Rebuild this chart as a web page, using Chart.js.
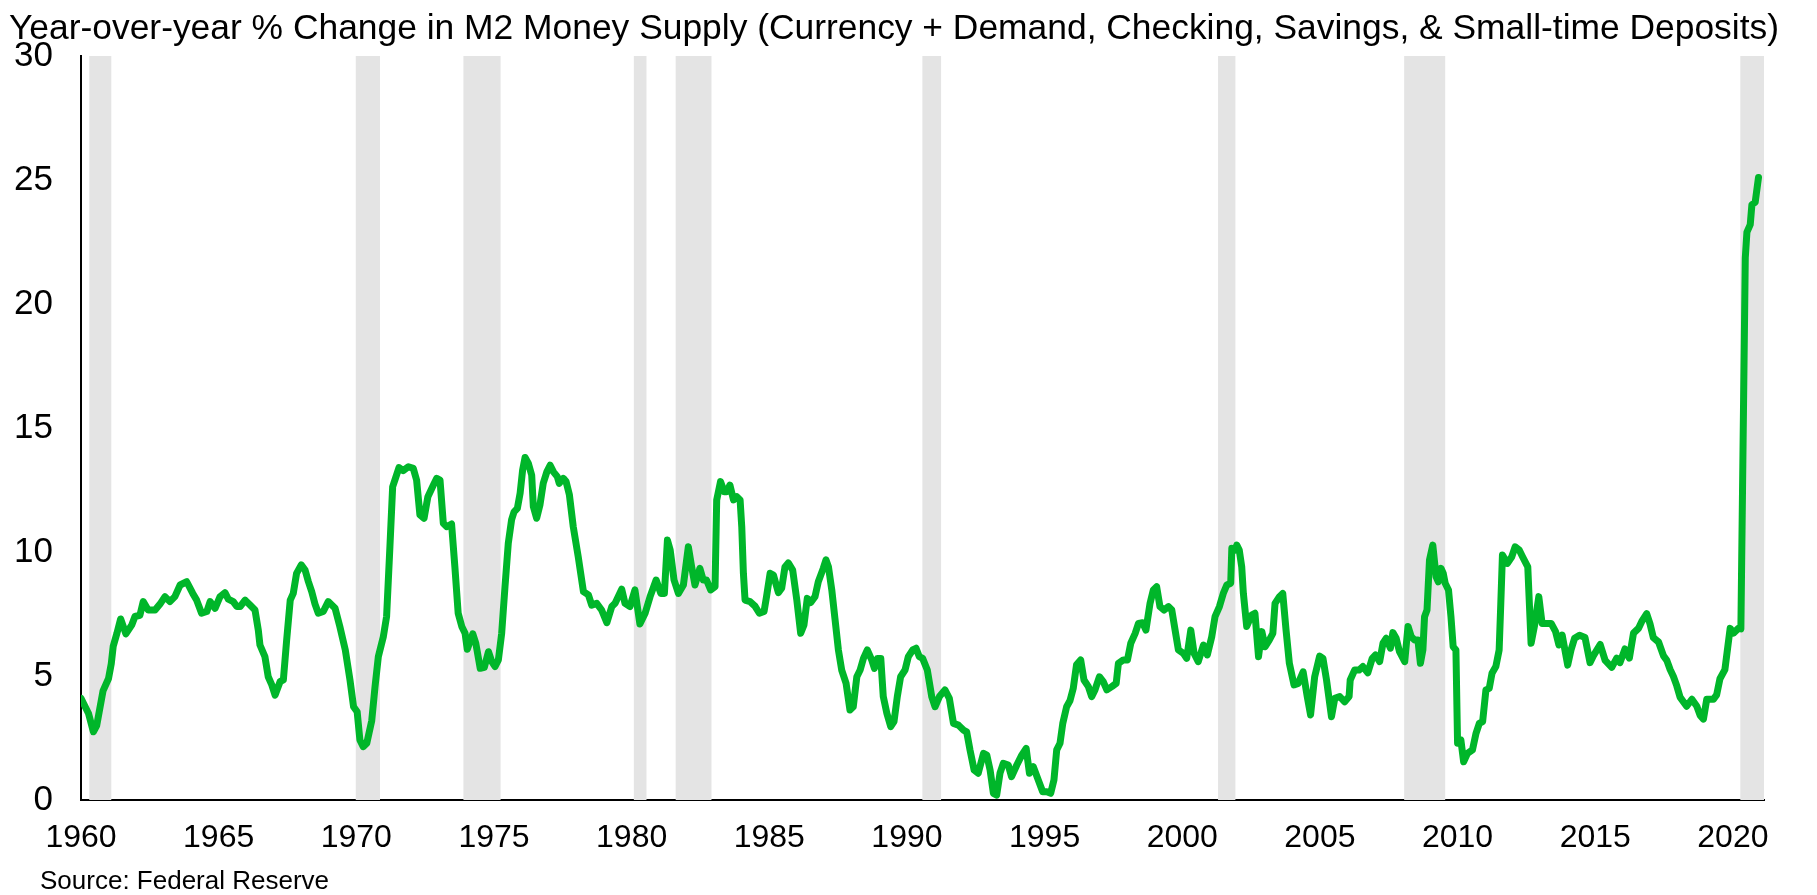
<!DOCTYPE html>
<html>
<head>
<meta charset="utf-8">
<title>M2 Money Supply YoY</title>
<script src="https://cdn.jsdelivr.net/npm/chart.js@4.4.1/dist/chart.umd.min.js"></script>
<style>
    html, body { margin: 0; padding: 0; background: #fff; }
    #wrap { width: 1817px; height: 895px; position: relative; }
</style>
</head>
<body>
<div id="wrap"><canvas id="m2Chart"></canvas></div>
<script>
// values, grouped by decade (x = decimal year, y = % yoy)
const years1960s = [1960.00, 1960.27, 1960.45, 1960.57, 1960.80, 1961.00, 1961.10, 1961.17, 1961.30, 1961.44, 1961.63, 1961.84, 1961.96, 1962.14, 1962.26, 1962.44, 1962.69, 1962.87, 1963.05, 1963.23, 1963.41, 1963.60, 1963.84, 1964.06, 1964.20, 1964.38, 1964.57, 1964.69, 1964.87, 1965.05, 1965.23, 1965.35, 1965.53, 1965.66, 1965.78, 1965.96, 1966.14, 1966.32, 1966.44, 1966.50, 1966.68, 1966.80, 1966.93, 1967.05, 1967.23, 1967.35, 1967.47, 1967.60, 1967.71, 1967.83, 1968.00, 1968.14, 1968.26, 1968.38, 1968.50, 1968.62, 1968.80, 1968.98, 1969.23, 1969.40, 1969.60, 1969.77, 1969.90];
const growth1960s = [4.1, 3.5, 2.75, 3.0, 4.4, 4.9, 5.5, 6.2, 6.7, 7.3, 6.7, 7.05, 7.4, 7.45, 8.0, 7.66, 7.66, 7.9, 8.2, 8.0, 8.2, 8.67, 8.8, 8.33, 8.06, 7.53, 7.6, 8.0, 7.73, 8.2, 8.36, 8.1, 8.0, 7.8, 7.8, 8.06, 7.86, 7.66, 6.85, 6.25, 5.78, 4.97, 4.64, 4.23, 4.77, 4.84, 6.45, 8.06, 8.33, 9.14, 9.48, 9.27, 8.8, 8.4, 7.9, 7.53, 7.6, 8.0, 7.73, 7.0, 6.05, 4.84, 3.76];

const years1970s = [1970.03, 1970.13, 1970.25, 1970.38, 1970.56, 1970.68, 1970.80, 1970.98, 1971.10, 1971.22, 1971.32, 1971.40, 1971.55, 1971.70, 1971.89, 1972.07, 1972.19, 1972.31, 1972.46, 1972.60, 1972.80, 1972.92, 1973.04, 1973.16, 1973.28, 1973.46, 1973.58, 1973.70, 1973.83, 1973.95, 1974.03, 1974.23, 1974.34, 1974.50, 1974.65, 1974.80, 1974.92, 1975.04, 1975.16, 1975.28, 1975.40, 1975.52, 1975.64, 1975.73, 1975.85, 1975.95, 1976.04, 1976.13, 1976.25, 1976.37, 1976.43, 1976.55, 1976.67, 1976.79, 1976.92, 1977.04, 1977.16, 1977.30, 1977.37, 1977.52, 1977.62, 1977.74, 1977.88, 1978.06, 1978.25, 1978.43, 1978.55, 1978.73, 1978.91, 1979.10, 1979.28, 1979.40, 1979.64, 1979.76, 1979.94];
const growth1970s = [3.56, 2.42, 2.15, 2.29, 3.2, 4.57, 5.78, 6.58, 7.4, 10.2, 12.63, 12.9, 13.4, 13.28, 13.44, 13.37, 12.9, 11.5, 11.36, 12.23, 12.7, 12.97, 12.9, 11.16, 11.02, 11.13, 9.4, 7.53, 7.0, 6.72, 6.08, 6.7, 6.32, 5.31, 5.35, 5.98, 5.58, 5.38, 5.65, 6.72, 8.6, 10.35, 11.3, 11.62, 11.76, 12.37, 13.3, 13.81, 13.57, 13.1, 11.83, 11.36, 11.9, 12.77, 13.23, 13.5, 13.23, 13.04, 12.77, 12.97, 12.84, 12.3, 11.02, 9.81, 8.4, 8.27, 7.86, 7.93, 7.66, 7.15, 7.8, 7.93, 8.5, 7.93, 7.8];

const years1980s = [1980.12, 1980.30, 1980.49, 1980.67, 1980.89, 1981.06, 1981.19, 1981.30, 1981.40, 1981.54, 1981.70, 1981.88, 1982.06, 1982.18, 1982.30, 1982.48, 1982.60, 1982.72, 1982.87, 1983.03, 1983.09, 1983.23, 1983.36, 1983.45, 1983.57, 1983.70, 1983.82, 1983.94, 1984.00, 1984.06, 1984.12, 1984.30, 1984.48, 1984.64, 1984.81, 1984.90, 1985.03, 1985.15, 1985.33, 1985.45, 1985.57, 1985.69, 1985.85, 1986.00, 1986.14, 1986.26, 1986.38, 1986.50, 1986.66, 1986.78, 1986.96, 1987.06, 1987.15, 1987.27, 1987.39, 1987.51, 1987.63, 1987.79, 1987.93, 1988.05, 1988.18, 1988.30, 1988.42, 1988.56, 1988.72, 1988.82, 1988.93, 1989.05, 1989.14, 1989.27, 1989.41, 1989.53, 1989.65, 1989.77, 1989.93];
const growth1980s = [8.47, 7.1, 7.53, 8.2, 8.87, 8.33, 8.33, 10.48, 10.08, 8.87, 8.33, 8.67, 10.21, 9.4, 8.67, 9.34, 8.87, 8.87, 8.47, 8.6, 12.1, 12.84, 12.43, 12.43, 12.7, 12.1, 12.23, 12.1, 11.02, 9.14, 8.06, 8.0, 7.82, 7.53, 7.6, 8.2, 9.14, 9.07, 8.36, 8.54, 9.4, 9.56, 9.27, 8.06, 6.72, 7.06, 8.13, 7.96, 8.2, 8.8, 9.34, 9.68, 9.4, 8.47, 7.26, 6.05, 5.24, 4.7, 3.63, 3.76, 4.97, 5.24, 5.71, 6.05, 5.65, 5.31, 5.71, 5.71, 4.17, 3.5, 2.96, 3.16, 4.17, 4.97, 5.24];

const years1990s = [1990.05, 1990.21, 1990.33, 1990.45, 1990.57, 1990.74, 1990.90, 1991.02, 1991.18, 1991.38, 1991.54, 1991.69, 1991.87, 1992.05, 1992.17, 1992.29, 1992.44, 1992.59, 1992.78, 1992.90, 1993.02, 1993.14, 1993.26, 1993.38, 1993.50, 1993.68, 1993.80, 1993.99, 1994.17, 1994.33, 1994.45, 1994.59, 1994.77, 1994.93, 1995.08, 1995.22, 1995.34, 1995.44, 1995.56, 1995.66, 1995.80, 1995.92, 1996.04, 1996.16, 1996.31, 1996.43, 1996.59, 1996.71, 1996.83, 1996.99, 1997.13, 1997.26, 1997.44, 1997.60, 1997.68, 1997.86, 1998.01, 1998.13, 1998.29, 1998.41, 1998.56, 1998.68, 1998.83, 1998.95, 1999.07, 1999.19, 1999.34, 1999.50, 1999.62, 1999.74, 1999.86];
const growth1990s = [5.78, 6.05, 6.12, 5.78, 5.71, 5.24, 4.17, 3.76, 4.17, 4.44, 4.1, 3.09, 3.02, 2.82, 2.75, 2.02, 1.21, 1.08, 1.88, 1.81, 1.21, 0.27, 0.2, 1.08, 1.48, 1.41, 0.94, 1.41, 1.81, 2.08, 1.08, 1.34, 0.81, 0.33, 0.33, 0.27, 0.81, 2.02, 2.29, 3.09, 3.76, 4.0, 4.5, 5.45, 5.65, 4.84, 4.57, 4.17, 4.44, 4.97, 4.77, 4.44, 4.57, 4.7, 5.51, 5.65, 5.65, 6.32, 6.72, 7.12, 7.15, 6.85, 7.93, 8.47, 8.6, 7.8, 7.66, 7.8, 7.66, 6.85, 6.05];

const years2000s = [2000.04, 2000.16, 2000.31, 2000.43, 2000.58, 2000.77, 2000.91, 2001.07, 2001.19, 2001.35, 2001.49, 2001.62, 2001.76, 2001.80, 2001.92, 2001.98, 2002.07, 2002.16, 2002.22, 2002.34, 2002.52, 2002.64, 2002.77, 2002.89, 2003.01, 2003.16, 2003.29, 2003.37, 2003.53, 2003.65, 2003.77, 2003.89, 2004.06, 2004.21, 2004.39, 2004.54, 2004.66, 2004.81, 2004.99, 2005.11, 2005.24, 2005.42, 2005.54, 2005.72, 2005.90, 2006.06, 2006.10, 2006.26, 2006.42, 2006.56, 2006.74, 2006.90, 2007.02, 2007.17, 2007.29, 2007.41, 2007.56, 2007.65, 2007.77, 2007.89, 2008.08, 2008.20, 2008.32, 2008.44, 2008.56, 2008.65, 2008.74, 2008.80, 2008.89, 2008.98, 2009.10, 2009.22, 2009.30, 2009.40, 2009.48, 2009.55, 2009.67, 2009.76, 2009.84, 2009.94];
const growth2000s = [5.91, 5.71, 6.85, 5.91, 5.58, 6.25, 5.85, 6.58, 7.39, 7.8, 8.33, 8.67, 8.74, 10.15, 10.08, 10.28, 10.08, 9.4, 8.33, 7.0, 7.46, 7.53, 5.78, 6.79, 6.18, 6.45, 6.72, 7.93, 8.2, 8.33, 6.85, 5.51, 4.64, 4.7, 5.17, 4.17, 3.43, 4.97, 5.8, 5.71, 4.84, 3.36, 4.1, 4.17, 3.96, 4.17, 4.84, 5.24, 5.24, 5.38, 5.13, 5.71, 5.85, 5.58, 6.32, 6.52, 6.12, 6.75, 6.52, 5.98, 5.58, 7.0, 6.58, 6.45, 6.45, 5.51, 6.05, 7.39, 7.66, 9.68, 10.28, 9.0, 8.8, 9.34, 9.14, 8.74, 8.47, 7.39, 6.18, 6.05];

const years2010s = [2010.00, 2010.12, 2010.22, 2010.36, 2010.54, 2010.67, 2010.79, 2010.91, 2011.03, 2011.15, 2011.25, 2011.39, 2011.51, 2011.57, 2011.63, 2011.81, 2011.97, 2012.09, 2012.24, 2012.36, 2012.55, 2012.67, 2012.79, 2012.95, 2013.07, 2013.22, 2013.40, 2013.56, 2013.68, 2013.80, 2014.00, 2014.12, 2014.25, 2014.43, 2014.63, 2014.81, 2014.93, 2015.18, 2015.36, 2015.60, 2015.78, 2015.90, 2016.08, 2016.24, 2016.39, 2016.57, 2016.69, 2016.87, 2016.99, 2017.11, 2017.30, 2017.48, 2017.60, 2017.72, 2017.84, 2017.96, 2018.08, 2018.32, 2018.51, 2018.69, 2018.81, 2018.93, 2019.05, 2019.29, 2019.41, 2019.53, 2019.71, 2019.90];
const growth2010s = [2.29, 2.42, 1.54, 1.88, 2.02, 2.69, 3.09, 3.16, 4.44, 4.5, 5.11, 5.38, 6.05, 7.93, 9.88, 9.54, 9.81, 10.21, 10.08, 9.81, 9.4, 6.32, 7.0, 8.2, 7.12, 7.12, 7.12, 6.79, 6.25, 6.65, 5.44, 6.05, 6.52, 6.64, 6.55, 5.54, 5.81, 6.27, 5.63, 5.35, 5.72, 5.54, 6.09, 5.72, 6.73, 6.92, 7.2, 7.51, 7.1, 6.55, 6.37, 5.81, 5.63, 5.26, 4.98, 4.61, 4.15, 3.78, 4.06, 3.78, 3.41, 3.26, 4.06, 4.06, 4.24, 4.89, 5.26, 6.92];

const years2020s = [2020.02, 2020.20, 2020.29, 2020.45, 2020.51, 2020.63, 2020.69, 2020.81, 2020.93];
const growth2020s = [6.73, 6.92, 6.9, 21.86, 22.9, 23.2, 24.0, 24.1, 25.1];

// shaded recessions (start / end, decimal year)
const recessionStart = [1960.30, 1969.98, 1973.89, 1980.08, 1981.60, 1990.56, 2001.30, 2008.06, 2020.27];
const recessionEnd = [1961.10, 1970.86, 1975.24, 1980.54, 1982.90, 1991.24, 2001.93, 2009.55, 2021.13];

const xTickYears = [1960, 1965, 1970, 1975, 1980, 1985, 1990, 1995, 2000, 2005, 2010, 2015, 2020];
const yTickValues = [0, 5, 10, 15, 20, 25, 30];

const chartTitle = 'Year-over-year % Change in M2 Money Supply (Currency + Demand, Checking, Savings, & Small-time Deposits)';
const sourceNote = 'Source: Federal Reserve';

const fontFamily = "'Liberation Sans', Arial, sans-serif";

const years = [].concat(years1960s, years1970s, years1980s, years1990s, years2000s, years2010s, years2020s);
const growth = [].concat(growth1960s, growth1970s, growth1980s, growth1990s, growth2000s, growth2010s, growth2020s);
const points = years.map((x, i) => ({ x: x, y: growth[i] }));

// grey recession bars behind the line
const recessionShading = {
    id: 'recessionShading',
    beforeDatasetsDraw(chart) {
        const { ctx, chartArea, scales } = chart;
        ctx.save();
        ctx.fillStyle = '#e4e4e4';
        recessionStart.forEach((start, i) => {
            const x0 = scales.x.getPixelForValue(start);
            const x1 = scales.x.getPixelForValue(recessionEnd[i]);
            ctx.fillRect(x0, chartArea.top, x1 - x0, chartArea.bottom - chartArea.top);
        });
        ctx.restore();
    },
};

// title on top, source note at the bottom left
const chartText = {
    id: 'chartText',
    afterDraw(chart) {
        const ctx = chart.ctx;
        ctx.save();
        ctx.fillStyle = '#000';
        ctx.textBaseline = 'alphabetic';
        ctx.font = '35.4px ' + fontFamily;
        ctx.textAlign = 'left';
        ctx.fillText(chartTitle, 9, 39);
        ctx.font = '26px ' + fontFamily;
        ctx.fillText(sourceNote, 40, 889);
        ctx.restore();
    },
};

const ctx = document.getElementById('m2Chart').getContext('2d');
new Chart(ctx, {
    type: 'line',
    data: {
        datasets: [
            {
                label: 'M2 YoY %',
                data: points,
                borderColor: '#00b62a',
                borderWidth: 7,
                borderJoinStyle: 'round',
                borderCapStyle: 'round',
                pointRadius: 0,
                tension: 0,
                fill: false,
            },
        ],
    },
    options: {
        responsive: true,
        maintainAspectRatio: false,
        animation: false,
        layout: {
            padding: { top: 56, right: 53, bottom: 0, left: 0 },
        },
        plugins: {
            legend: { display: false },
            tooltip: { enabled: false },
        },
        scales: {
            x: {
                type: 'linear',
                min: 1960,
                max: 2021.13,
                grid: { display: false, drawTicks: false },
                border: { display: true, color: '#000', width: 2 },
                afterBuildTicks: (scale) => {
                    scale.ticks = xTickYears.map((v) => ({ value: v }));
                },
                afterFit: (scale) => {
                    scale.height = 95;
                },
                ticks: {
                    color: '#000',
                    autoSkip: false,
                    maxRotation: 0,
                    padding: 19,
                    font: { family: fontFamily, size: 32 },
                    callback: (value) => String(value),
                },
            },
            y: {
                min: 0,
                max: 30,
                grid: { display: false, drawTicks: false },
                border: { display: true, color: '#000', width: 2 },
                afterBuildTicks: (scale) => {
                    scale.ticks = yTickValues.map((v) => ({ value: v }));
                },
                afterFit: (scale) => {
                    scale.width = 81;
                },
                ticks: {
                    color: '#000',
                    padding: 28,
                    font: { family: fontFamily, size: 35 },
                    callback: (value) => String(value),
                },
            },
        },
    },
    plugins: [recessionShading, chartText],
});
</script>
</body>
</html>
